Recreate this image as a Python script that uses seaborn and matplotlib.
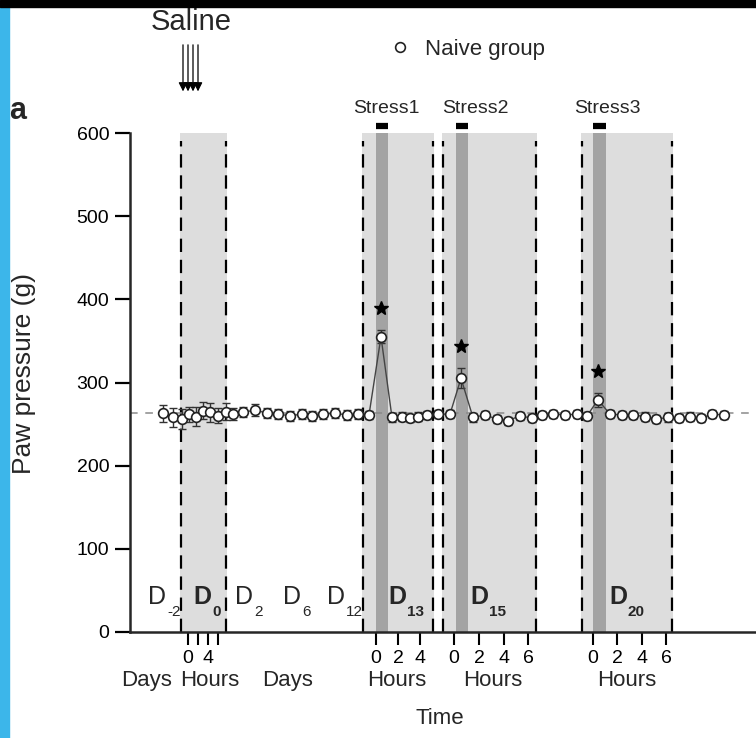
import numpy as np
import pandas as pd
import seaborn as sns
import matplotlib
matplotlib.use("Agg")
import matplotlib.pyplot as plt
from matplotlib.lines import Line2D
from matplotlib.patches import Rectangle

# ---------------- data ----------------
# timeline position (arbitrary layout units along the segmented time axis)
pos = [33, 43,
       52, 59, 66, 73, 80, 88, 96,
       103, 113, 125, 137, 148, 160, 172, 182, 193, 205, 217, 228,
       239, 251, 262, 272, 280, 288, 297,
       308,
       320, 331, 343, 355, 367, 378, 390, 402,
       412, 423, 435, 447,
       457, 468, 480, 492, 503, 515, 526, 538,
       549, 560, 571, 582, 594]
paw = [263, 258,
       256, 262, 259, 266, 264, 260, 265,
       262, 264, 267, 263, 262, 260, 262, 260, 262, 263, 261, 262,
       261, 355, 258, 259, 257, 259, 261,
       262,
       262, 305, 258, 261, 256, 254, 260, 257,
       261, 262, 261, 262,
       260, 279, 262, 261, 261, 259, 256, 258,
       257, 259, 257, 262, 261]
sem = [10, 11,
       12, 9, 11, 10, 11, 9, 10,
       7, 6, 7, 6, 6, 6, 6, 6, 6, 6, 6, 6,
       5, 8, 5, 5, 5, 5, 5,
       5,
       5, 12, 5, 5, 5, 5, 5, 5,
       5, 5, 5, 5,
       5, 8, 5, 5, 5, 5, 5, 5,
       5, 5, 5, 5, 5]
baseline = 263
peak_idx = [22, 30, 42]

hour_tick_pos = [58, 68, 78, 88, 246, 268, 290, 324, 349, 374, 398, 463, 487, 512, 536]
hour_tick_lab = ["0", "", "4", "", "0", "2", "4", "0", "2", "4", "6", "0", "2", "4", "6"]

phase_bounds = [51, 96, 233, 303, 313, 406, 452, 542]       # dashed boundaries
light_spans = [(50, 97), (232, 304), (312, 407), (451, 543)]
stress_spans = [(246, 258), (326, 338), (463, 476)]
stress_names = ["Stress1", "Stress2", "Stress3"]
saline_pos = [53, 58, 63, 68]

day_labels = [("D", "-2", 18, False), ("D", "0", 63, True), ("D", "2", 105, False),
              ("D", "6", 153, False), ("D", "12", 197, False), ("D", "13", 258, True),
              ("D", "15", 340, True), ("D", "20", 479, True)]
unit_labels = [("Days", 17), ("Hours", 80), ("Days", 158), ("Hours", 267),
               ("Hours", 363), ("Hours", 497)]

df = pd.DataFrame({"pos": pos, "paw": paw, "sem": sem})

# ---------------- style ----------------
sns.set_theme(style="ticks")
plt.rcParams["font.family"] = ["Liberation Sans", "DejaVu Sans"]

W, H = 756, 738
fig = plt.figure(figsize=(W / 100, H / 100), dpi=100)
ax = fig.add_axes([130 / W, 1 - 632 / H, 626 / W, 499 / H])
ax.set_xlim(0, 626)
ax.set_ylim(0, 600)

# shaded phases
for a, b in light_spans:
    ax.axvspan(a, b, color="#dddddd", lw=0, zorder=0)
for a, b in stress_spans:
    ax.axvspan(a, b, color="#a3a3a3", lw=0, zorder=0.5)

# dashed phase boundaries
for x in phase_bounds:
    ax.plot([x, x], [0, 590], color="black", lw=1.6, ls=(0, (6, 3.5)), zorder=1)

# baseline reference
ax.axhline(baseline, color="#8a8a8a", lw=1.1, ls=(0, (5, 5)), zorder=1)

# data
ax.errorbar(df["pos"], df["paw"], yerr=df["sem"], fmt="none", ecolor="#333333",
            elinewidth=1.0, capsize=3, capthick=1.0, zorder=2)
sns.lineplot(data=df, x="pos", y="paw", ax=ax, color="#444444", lw=1.0,
             marker="o", markersize=7, markerfacecolor="white",
             markeredgecolor="#222222", markeredgewidth=1.2, zorder=3,
             errorbar=None, sort=False)

# significance stars
for i in peak_idx:
    ax.plot(pos[i], paw[i] + sem[i] + 27, marker="*", color="black", ms=10,
            ls="none", zorder=4, clip_on=False)

# stress bars and labels
for (a, b), name, dx in zip(stress_spans, stress_names, [4, 13, 8]):
    ax.plot([a, b], [608, 608], color="black", lw=4.5, solid_capstyle="butt",
            clip_on=False)
    ax.text((a + b) / 2 + dx, 629, name, ha="center", va="center", fontsize=14,
            clip_on=False)

# saline arrows
for x in saline_pos:
    ax.annotate("", xy=(x, 650), xytext=(x, 706), annotation_clip=False,
                arrowprops=dict(arrowstyle="-|>", color="black", lw=0.9,
                                mutation_scale=13, shrinkA=0, shrinkB=0))
fig.text(191 / W, 1 - 22 / H, "Saline", ha="center", va="center", fontsize=21)

# day labels inside the plot
for d, sub, x, bold in day_labels:
    fw = "bold" if bold else "normal"
    ax.text(x, 42, d, ha="left", va="center", fontsize=18, fontweight=fw)
    ax.text(x + 19, 24, sub, ha="left", va="center", fontsize=11, fontweight=fw)

# axes styling
sns.despine(ax=ax, top=True, right=True)
ax.spines["left"].set_bounds(0, 600)
ax.spines["left"].set_linewidth(1.8)
ax.spines["bottom"].set_linewidth(1.8)
ax.set_yticks([0, 100, 200, 300, 400, 500, 600])
ax.set_xticks(hour_tick_pos)
ax.set_xticklabels(hour_tick_lab)
ax.tick_params(axis="y", length=11, width=1.6, labelsize=14, pad=4, colors="black")
ax.tick_params(axis="x", length=9, width=1.5, labelsize=14, pad=4, colors="black")
ax.set_xlabel("")
ax.set_ylabel("")

for lab, x in unit_labels:
    ax.text(x, -58, lab, ha="center", va="center", fontsize=16, clip_on=False)

fig.text(24 / W, 1 - 373 / H, "Paw pressure (g)", rotation=90, ha="center",
         va="center", fontsize=19)
fig.text(440 / W, 1 - 719 / H, "Time", ha="center", va="center", fontsize=16)
fig.text(18 / W, 1 - 111 / H, "a", ha="center", va="center", fontsize=22,
         fontweight="bold")

# legend
h = Line2D([], [], marker="o", ls="none", markerfacecolor="white",
           markeredgecolor="#222222", markeredgewidth=1.2, markersize=7)
fig.legend([h], ["Naive group"], loc="center left",
           bbox_to_anchor=(389 / W, 1 - 49 / H), frameon=False, fontsize=16,
           handlelength=1, handletextpad=0.6, borderpad=0, borderaxespad=0)

# frame artefacts of the reference image
fig.patches.append(Rectangle((0, 0), 9 / W, 1, transform=fig.transFigure,
                             color="#3cb6ea", zorder=10))
fig.patches.append(Rectangle((0, 1 - 7 / H), 1, 7 / H, transform=fig.transFigure,
                             color="black", zorder=11))

fig.savefig("out.png", dpi=100)
